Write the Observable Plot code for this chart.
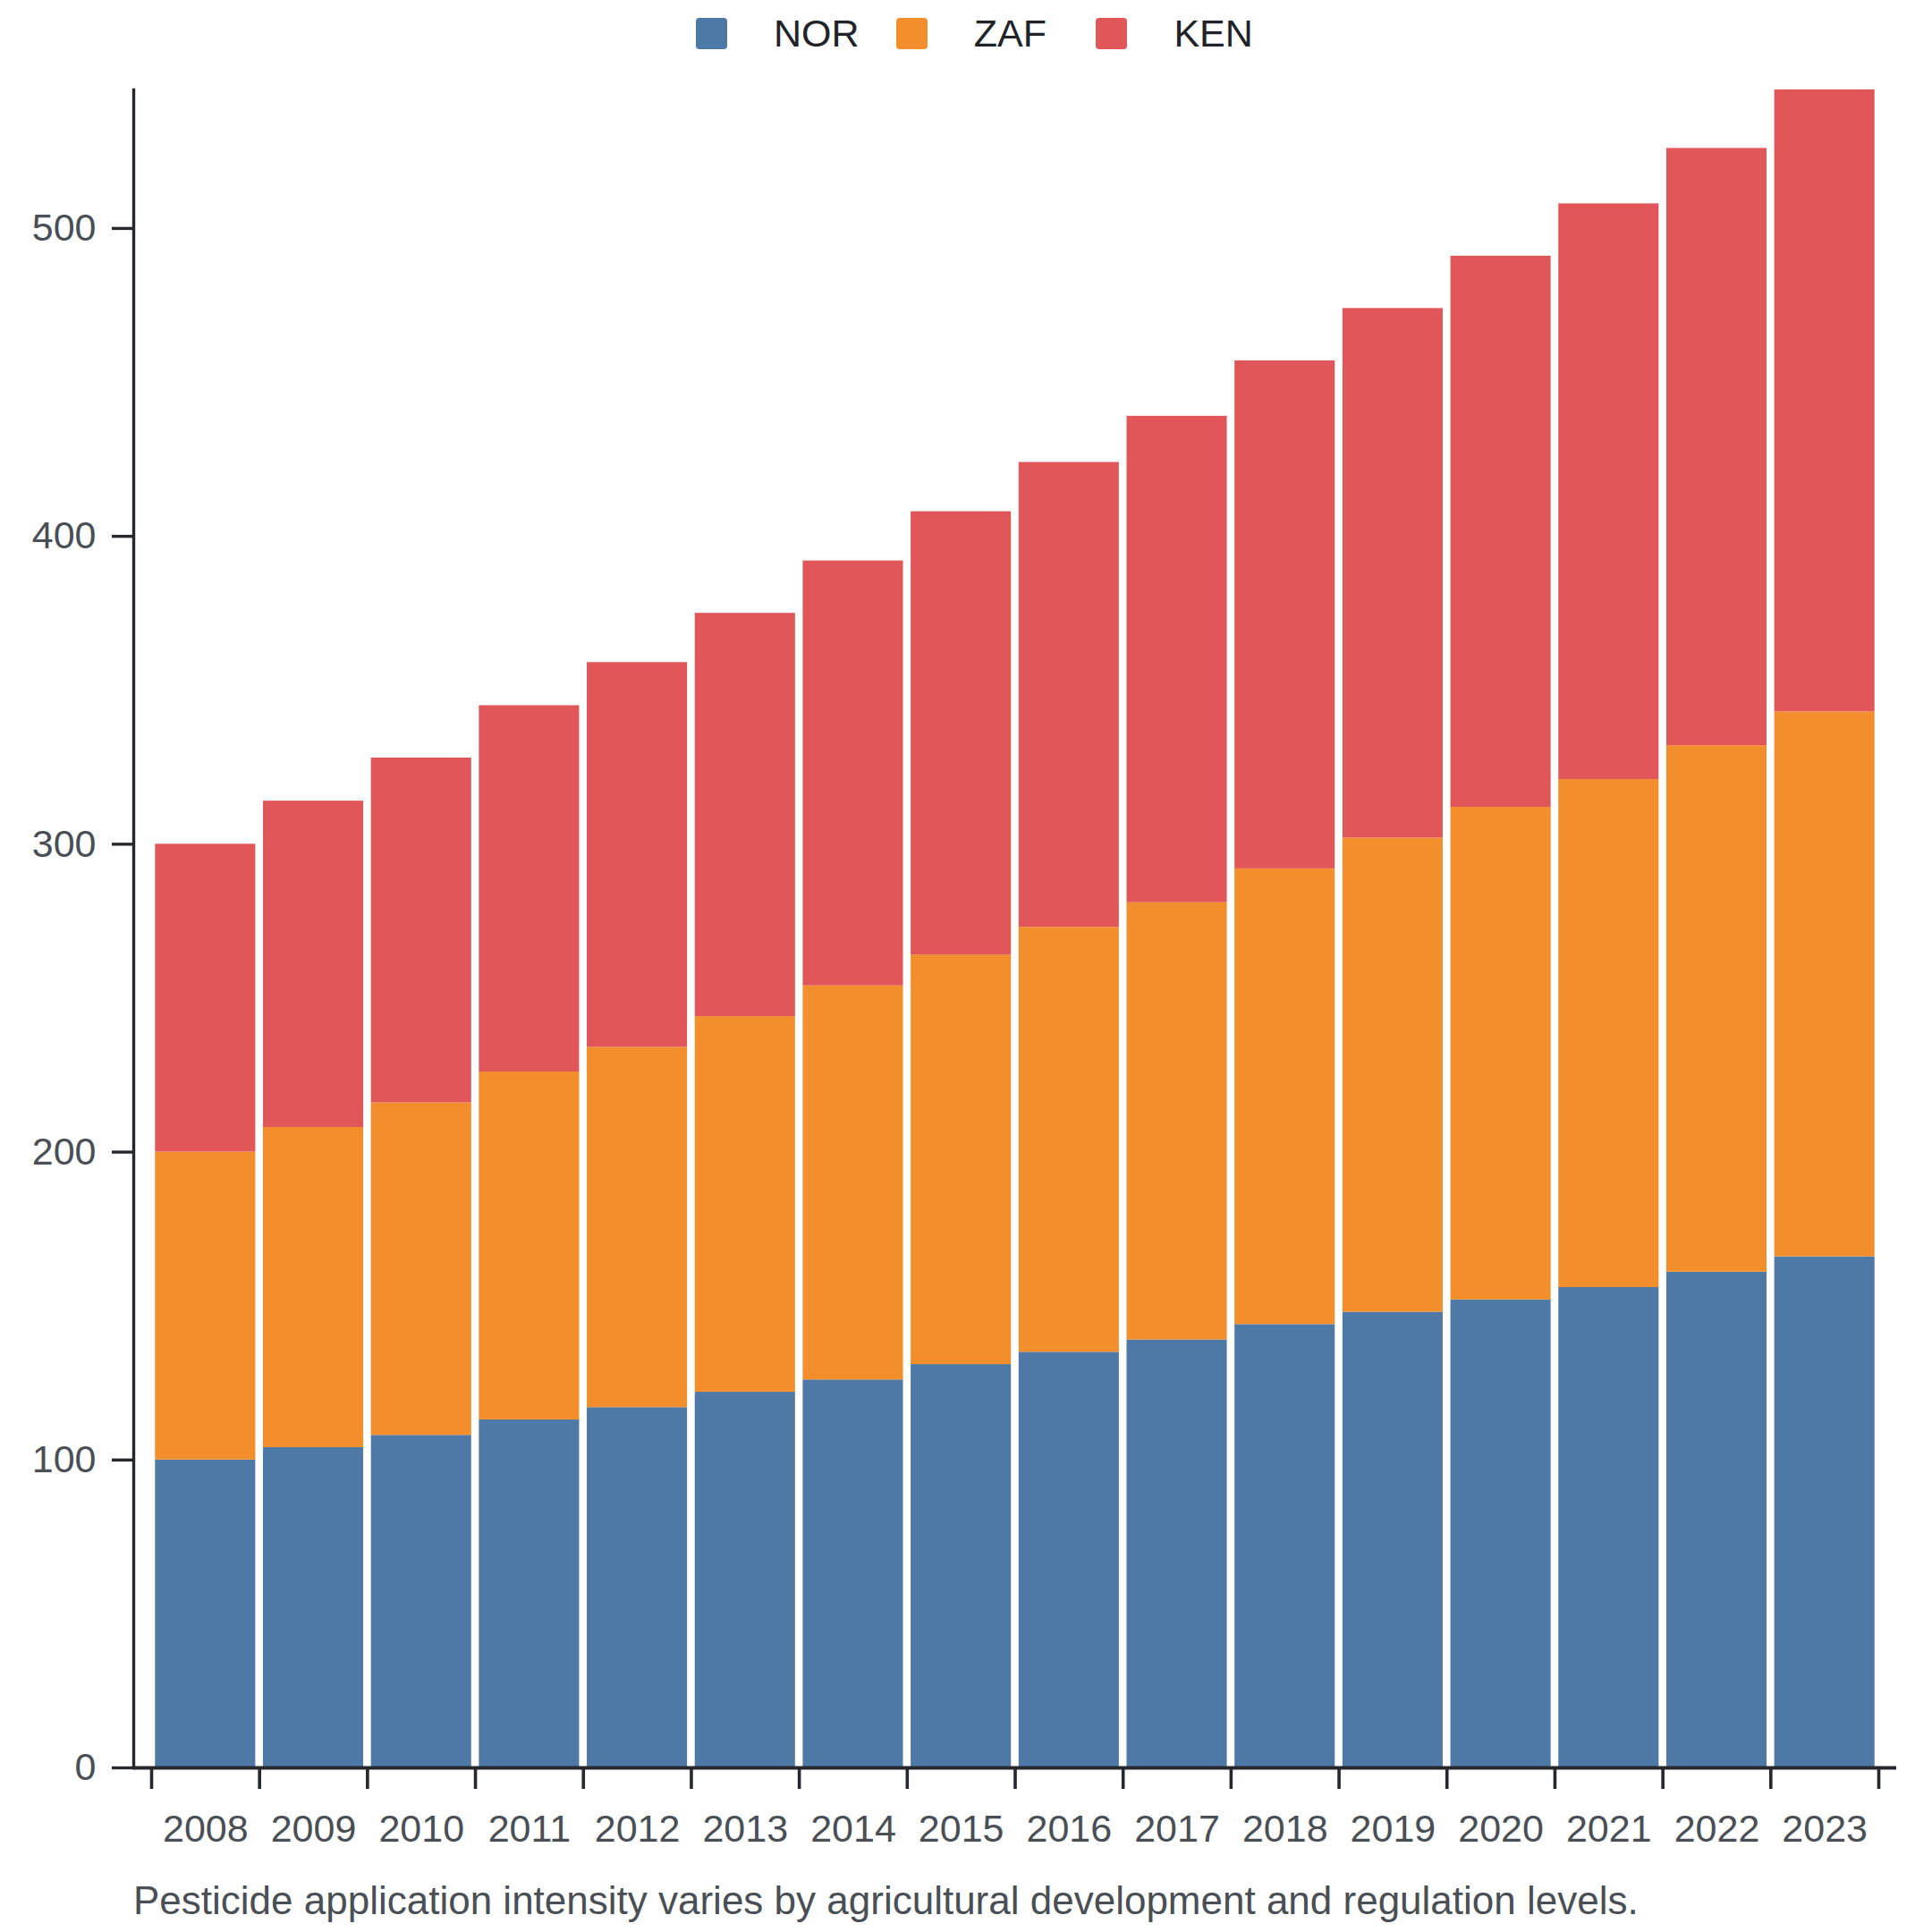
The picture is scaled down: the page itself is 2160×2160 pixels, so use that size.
<!DOCTYPE html>
<html>
<head>
<meta charset="utf-8">
<script src="https://cdn.jsdelivr.net/npm/d3@7"></script>
<script src="https://cdn.jsdelivr.net/npm/@observablehq/plot@0.6"></script>
<style>
  html, body { margin: 0; padding: 0; background: #ffffff; }
  body { font-family: "Liberation Sans", Arial, sans-serif; width: 2160px; }
  .legend { height: 75px; display: flex; align-items: center; padding-left: 778px; box-sizing: border-box; }
  .item { width: 223.7px; flex: none; display: flex; align-items: center; }
  .sw { width: 35px; height: 35px; border-radius: 4px; margin-right: 52px; flex: none; }
  .lab { font-size: 43px; line-height: 1; color: #202327; white-space: nowrap; }
  #chart svg { display: block; }
  .caption { font-size: 44px; line-height: 50px; color: #4a4f55; margin-top: 24px; padding-left: 149px; white-space: nowrap; }
</style>
</head>
<body>
<div class="legend" id="legend"></div>
<div id="chart"></div>
<div class="caption" id="caption"></div>
<script>
const years = [2008, 2009, 2010, 2011, 2012, 2013, 2014, 2015, 2016, 2017, 2018, 2019, 2020, 2021, 2022, 2023];
const countries = ["NOR", "ZAF", "KEN"];
const colors = ["#4e79a7", "#f28e2b", "#e15759"];
const nor = [100, 104, 108, 113, 117, 122, 126, 131, 135, 139, 144, 148, 152, 156, 161, 166];
const zaf = [100, 104, 108, 113, 117, 122, 128, 133, 138, 142, 148, 154, 160, 165, 171, 177];
const ken = [100, 106, 112, 119, 125, 131, 138, 144, 151, 158, 165, 172, 179, 187, 194, 202];
const yTicks = [0, 100, 200, 300, 400, 500];
const captionText = "Pesticide application intensity varies by agricultural development and regulation levels.";

const series = {NOR: nor, ZAF: zaf, KEN: ken};
const data = [];
years.forEach((year, i) => {
  countries.forEach(c => data.push({year, country: c, value: series[c][i]}));
});
const edges = years.map(y => y - 0.5).concat([years[years.length - 1] + 0.5]);

const axisColor = "#25282c";
const textColor = "#4a4f55";

const chart = Plot.plot({
  width: 2160,
  height: 2001,
  marginTop: 25,
  marginBottom: 100,
  marginLeft: 149,
  marginRight: 40,
  style: {fontFamily: "'Liberation Sans', Arial, sans-serif", fontSize: "43px", color: textColor, background: "#ffffff"},
  x: {type: "linear", domain: [edges[0], edges[edges.length - 1]], insetLeft: 20, insetRight: 20},
  y: {domain: [0, d3.max(years.map((_, i) => nor[i] + zaf[i] + ken[i]))]},
  color: {domain: countries, range: colors},
  marks: [
    Plot.rectY(data, Plot.stackY({
      x1: d => d.year - 0.5,
      x2: d => d.year + 0.5,
      y: "value",
      fill: "country",
      order: countries,
      insetLeft: 4.3,
      insetRight: 4.3
    })),
    Plot.frame({anchor: "left", stroke: axisColor, strokeWidth: 3.4}),
    Plot.ruleY([0], {stroke: axisColor, strokeWidth: 3.8}),
    Plot.axisY({ticks: yTicks, tickSize: 24, tickPadding: 18, label: null, stroke: axisColor, strokeWidth: 3.4, strokeOpacity: 1, fill: textColor}),
    Plot.axisX({ticks: edges, tickSize: 24, tickFormat: () => "", label: null, stroke: axisColor, strokeWidth: 3.6, strokeOpacity: 1}),
    Plot.axisX({ticks: years, tickSize: 0, tickPadding: 52, tickFormat: d => String(d), label: null, fill: textColor})
  ]
});
document.getElementById("chart").appendChild(chart);

const legend = document.getElementById("legend");
countries.forEach((c, i) => {
  const item = document.createElement("div");
  item.className = "item";
  const sw = document.createElement("div");
  sw.className = "sw";
  sw.style.background = colors[i];
  const lab = document.createElement("span");
  lab.className = "lab";
  lab.textContent = c;
  item.appendChild(sw);
  item.appendChild(lab);
  legend.appendChild(item);
});
document.getElementById("caption").textContent = captionText;
</script>
</body>
</html>
